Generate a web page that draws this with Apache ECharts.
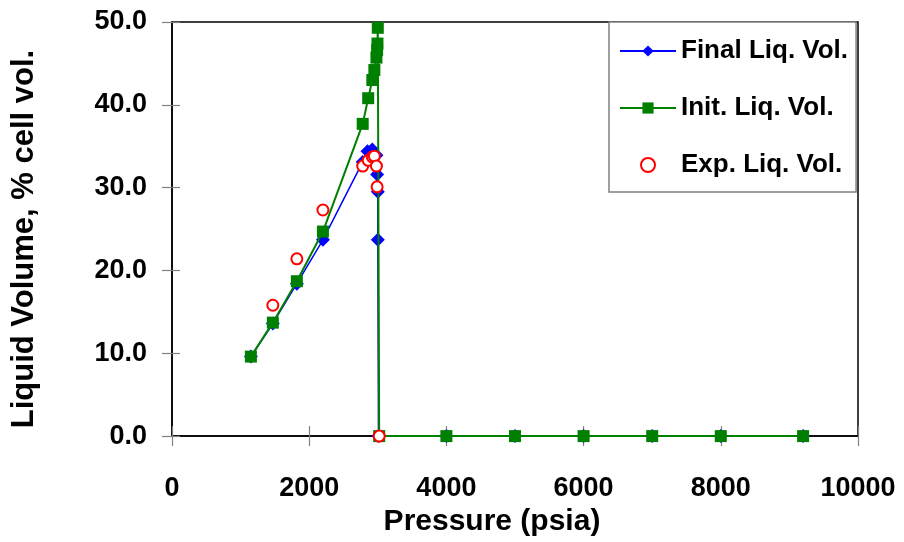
<!DOCTYPE html>
<html>
<head>
<meta charset="utf-8">
<script src="https://cdn.jsdelivr.net/npm/echarts@6/dist/echarts.min.js"></script>
<style>
  html, body { margin: 0; padding: 0; background: #fff; }
  #chart { width: 904px; height: 542px; }
</style>
</head>
<body>
<div id="chart"></div>
<script>
// Pressure (psia) and liquid volume (% of cell volume) for each data set
const finalPressure = [1150, 1470, 1820, 2200, 2780, 2850, 2920, 2980, 2990, 3000, 3000, 3010, 4000, 5000, 6000, 7000, 8000, 9200];
const finalVolume   = [9.6, 13.6, 18.4, 23.7, 33.1, 34.4, 34.6, 33.9, 31.6, 29.5, 23.7, 0, 0, 0, 0, 0, 0, 0];

const initPressure = [1150, 1470, 1820, 2200, 2780, 2860, 2920, 2950, 2980, 2990, 2995, 3000, 3020, 4000, 5000, 6000, 7000, 8000, 9200];
const initVolume   = [9.6, 13.7, 18.7, 24.7, 37.7, 40.8, 43.0, 44.2, 45.7, 46.6, 47.4, 49.3, 0, 0, 0, 0, 0, 0, 0];

const expPressure = [1470, 1820, 2200, 2780, 2860, 2920, 2950, 2980, 2990, 3020];
const expVolume   = [15.8, 21.4, 27.3, 32.6, 33.3, 33.7, 33.8, 32.6, 30.1, 0];

const seriesNames = ['Final Liq. Vol.', 'Init. Liq. Vol.', 'Exp. Liq. Vol.'];
const xTitle = 'Pressure (psia)';
const yTitle = 'Liquid Volume, % cell vol.';

const pairs = (xs, ys) => xs.map((x, i) => [x, ys[i]]);

const FONT = 'Liberation Sans';
const tickStyle = { lineStyle: { color: '#808080', width: 1.2 } };

const chart = echarts.init(document.getElementById('chart'));
chart.setOption({
  animation: false,
  backgroundColor: '#fff',
  grid: {
    left: 172, right: 46, top: 22, bottom: 103,
    show: true, borderColor: '#000', borderWidth: 1.5
  },
  legend: {
    orient: 'vertical',
    left: 609, top: 22,
    padding: [14, 8, 12, 10],
    itemWidth: 56, itemHeight: 14,
    itemGap: 27,
    backgroundColor: '#fff',
    borderColor: '#808080', borderWidth: 1.5,
    textStyle: { fontFamily: FONT, fontWeight: 'bold', fontSize: 26, color: '#000', lineHeight: 30 },
    data: seriesNames
  },
  xAxis: [{
    type: 'value', min: 0, max: 10000, interval: 2000,
    name: xTitle, nameLocation: 'middle', nameGap: 64,
    nameTextStyle: { fontFamily: FONT, fontWeight: 'bold', fontSize: 30, color: '#000', padding: [0, 46, 0, 0] },
    axisLine: { onZero: false, lineStyle: { color: '#000', width: 1.5 } },
    axisTick: Object.assign({ show: true, length: 10, inside: false }, tickStyle),
    axisLabel: { margin: 39, fontFamily: FONT, fontWeight: 'bold', fontSize: 27, color: '#000',
                 formatter: v => String(v) },
    splitLine: { show: false }
  }, {
    type: 'value', min: 0, max: 10000, interval: 2000, position: 'bottom',
    axisLine: { show: false },
    axisTick: Object.assign({ show: true, length: 10, inside: true }, tickStyle),
    axisLabel: { show: false },
    splitLine: { show: false }
  }],
  yAxis: [{
    type: 'value', min: 0, max: 50, interval: 10,
    name: yTitle, nameLocation: 'middle', nameRotate: 90, nameGap: 132,
    nameTextStyle: { fontFamily: FONT, fontWeight: 'bold', fontSize: 31, color: '#000', padding: [0, 20, 0, 0] },
    axisLine: { onZero: false, lineStyle: { color: '#000', width: 1.5 } },
    axisTick: Object.assign({ show: true, length: 10, inside: false }, tickStyle),
    axisLabel: { margin: 25, fontFamily: FONT, fontWeight: 'bold', fontSize: 27, color: '#000',
                 formatter: v => v.toFixed(1) },
    splitLine: { show: false }
  }, {
    type: 'value', min: 0, max: 50, interval: 10, position: 'left',
    axisLine: { show: false },
    axisTick: Object.assign({ show: true, length: 8, inside: true }, tickStyle),
    axisLabel: { show: false },
    splitLine: { show: false }
  }],
  series: [{
    name: seriesNames[0], type: 'line',
    data: pairs(finalPressure, finalVolume),
    symbol: 'diamond', symbolSize: 14,
    lineStyle: { color: '#0000ff', width: 1.5 },
    itemStyle: { color: '#0000ff' },
    z: 2
  }, {
    name: seriesNames[1], type: 'line',
    data: pairs(initPressure, initVolume),
    symbol: 'rect', symbolSize: 12,
    lineStyle: { color: '#008000', width: 2 },
    itemStyle: { color: '#008000' },
    z: 3
  }, {
    name: seriesNames[2], type: 'scatter',
    data: pairs(expPressure, expVolume),
    symbol: 'emptyCircle', symbolSize: 11,
    itemStyle: { color: '#ff0000', borderColor: '#ff0000', borderWidth: 2, opacity: 1 },
    z: 5
  }]
});
</script>
</body>
</html>
